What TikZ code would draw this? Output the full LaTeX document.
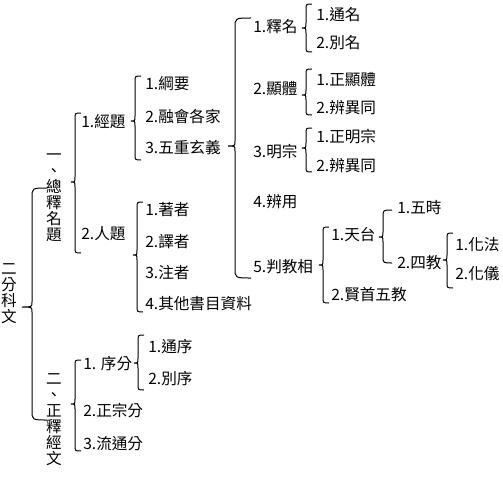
\documentclass[tikz,border=0pt]{standalone}
\usepackage{fontspec}
\setmainfont{Noto Sans CJK TC}
\newcommand\lblfont{\fontsize{11.7pt}{12pt}\selectfont}
% #1 x, #2 top, #3 tip y, #4 bottom, #5 curl width, #6 curl height, #7 tip depth
\newcommand\mybrace[7]{%
  \draw[br] ({#1+#5},#2) .. controls (#1,#2) .. (#1,{#2+#6})
    -- (#1,{#3-5}) .. controls (#1,#3) .. ({#1-#7},#3)
    .. controls (#1,#3) .. (#1,{#3+5})
    -- (#1,{#4-#6}) .. controls (#1,#4) .. ({#1+#5},#4);}
\begin{document}
\begin{tikzpicture}[x=0.75pt,y=-0.75pt,
  lbl/.style={anchor=west, inner sep=0pt, font=\lblfont},
  vlbl/.style={anchor=center, inner sep=0pt, align=center, font=\lblfont},
  br/.style={draw=black, line width=0.75pt}]
\useasboundingbox[fill=white] (0,0) rectangle (503,492);

% vertical titles
\node[vlbl] (root) at (9,294) {二\\分\\科\\文};
\node[vlbl] (a) at (54,198) {一\\、\\總\\釋\\名\\題};
\node[vlbl] (b) at (54,420) {二\\、\\正\\釋\\經\\文};

% level 3
\node[lbl] (a1) at (81,122) {1.經題};
\node[lbl] (a2) at (81,234) {2.人題};
\node[lbl] (b1) at (83,364) {1. 序分};
\node[lbl] (b2) at (83,411) {2.正宗分};
\node[lbl] (b3) at (83,444) {3.流通分};

% level 4
\node[lbl] (a11) at (145,84) {1.綱要};
\node[lbl] (a12) at (145,117) {2.融會各家};
\node[lbl] (a13) at (145,148) {3.五重玄義};
\node[lbl] (a21) at (145,210) {1.著者};
\node[lbl] (a22) at (145,242) {2.譯者};
\node[lbl] (a23) at (145,273) {3.注者};
\node[lbl] (a24) at (145,304) {4.其他書目資料};
\node[lbl] (b11) at (148,347) {1.通序};
\node[lbl] (b12) at (148,379) {2.別序};

% level 5
\node[lbl] (c1) at (253,27) {1.釋名};
\node[lbl] (c2) at (253,89) {2.顯體};
\node[lbl] (c3) at (253,152) {3.明宗};
\node[lbl] (c4) at (253,202) {4.辨用};
\node[lbl] (c5) at (253,267) {5.判教相};

% level 6
\node[lbl] (c11) at (316,15) {1.通名};
\node[lbl] (c12) at (316,43) {2.別名};
\node[lbl] (c21) at (316,80) {1.正顯體};
\node[lbl] (c22) at (316,108) {2.辨異同};
\node[lbl] (c31) at (316,137) {1.正明宗};
\node[lbl] (c32) at (316,166) {2.辨異同};
\node[lbl] (c51) at (331,235) {1.天台};
\node[lbl] (c52) at (331,295) {2.賢首五教};

% level 7
\node[lbl] (d1) at (397,208) {1.五時};
\node[lbl] (d2) at (397,263) {2.四教};
\node[lbl] (e1) at (455,245) {1.化法};
\node[lbl] (e2) at (455,274) {2.化儀};

% braces
\mybrace{32}{188}{307}{420}{15}{10}{10}
\mybrace{75}{113}{182}{253}{6}{6}{4}
\mybrace{135}{76}{121}{160}{6}{6}{4}
\mybrace{137}{202}{255}{312}{6}{6}{4}
\mybrace{235}{18}{146}{278}{16}{10}{7}
\mybrace{306}{4}{28}{52}{6}{6}{4}
\mybrace{306}{69}{95}{115}{6}{6}{4}
\mybrace{306}{128}{148}{172}{6}{6}{4}
\mybrace{323}{227}{265}{303}{6}{6}{4}
\mybrace{383}{210}{237}{263}{9}{7}{4}
\mybrace{447}{233}{260}{288}{6}{6}{4}
\mybrace{75}{360}{404}{451}{6}{6}{4}
\mybrace{138}{335}{363}{390}{6}{6}{4}
\end{tikzpicture}
\end{document}
